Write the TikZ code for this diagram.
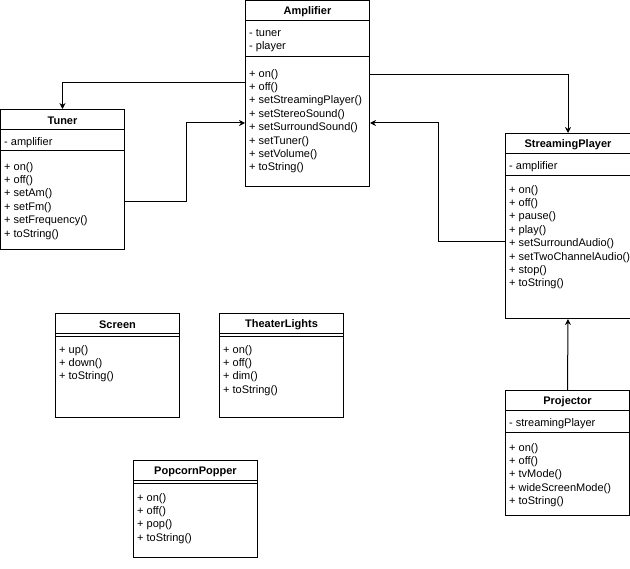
\documentclass[tikz,border=0pt]{standalone}
\usepackage{fontspec}
\setmainfont{Liberation Sans}
\usetikzlibrary{arrows.meta, positioning}
\newcommand{\umlsize}{\fontsize{11}{13.4}\selectfont}

\begin{document}
\begin{tikzpicture}[
    x=1pt, y=-1pt,
    umlclass/.style={draw, line width=1pt, anchor=north west, minimum width=124pt,
                     minimum height=#1, inner sep=0pt},
    umlname/.style={anchor=north, minimum height=23pt, inner sep=0pt, font=\umlsize\bfseries},
    members/.style={anchor=north west, align=left, inner sep=0pt, font=\umlsize},
    divider/.style={line width=1pt},
    assoc/.style={-{Stealth[length=6pt, width=6pt]}, line width=1pt}
]
    \useasboundingbox (0,0) rectangle (630,569);

    % Amplifier
    \node[umlclass=186pt] (amp) at (245,0) {};
    \node[umlname] (ampname) at (amp.north) {Amplifier};
    \draw[divider] ([yshift=-21pt]amp.north west) -- ([yshift=-21pt]amp.north east);
    \draw[divider] ([yshift=-57pt]amp.north west) -- ([yshift=-57pt]amp.north east);
    \node[members] (ampattr) at ([shift={(4,29)}]amp.north west) {- tuner\\- player};
    \node[members] (ampops) at ([shift={(4,69)}]amp.north west)
        {+ on()\\+ off()\\+ setStreamingPlayer()\\+ setStereoSound()\\+ setSurroundSound()\\+ setTuner()\\+ setVolume()\\+ toString()};

    % Tuner
    \node[umlclass=140pt] (tuner) at (0,109) {};
    \node[umlname] (tunername) at (tuner.north) {Tuner};
    \draw[divider] ([yshift=-21pt]tuner.north west) -- ([yshift=-21pt]tuner.north east);
    \draw[divider] ([yshift=-42pt]tuner.north west) -- ([yshift=-42pt]tuner.north east);
    \node[members] (tunerattr) at ([shift={(4,28)}]tuner.north west) {- amplifier};
    \node[members] (tunerops) at ([shift={(4,53)}]tuner.north west)
        {+ on()\\+ off()\\+ setAm()\\+ setFm()\\+ setFrequency()\\+ toString()};

    % StreamingPlayer
    \node[umlclass=185pt, minimum width=125pt] (player) at (505,133) {};
    \node[umlname] (playername) at (player.north) {StreamingPlayer};
    \draw[divider] ([yshift=-21pt]player.north west) -- ([yshift=-21pt]player.north east);
    \draw[divider] ([yshift=-43pt]player.north west) -- ([yshift=-43pt]player.north east);
    \node[members] (playerattr) at ([shift={(4,28)}]player.north west) {- amplifier};
    \node[members] (playerops) at ([shift={(4,52)}]player.north west)
        {+ on()\\+ off()\\+ pause()\\+ play()\\+ setSurroundAudio()\\+ setTwoChannelAudio()\\+ stop()\\+ toString()};

    % Projector
    \node[umlclass=125pt] (proj) at (505,390) {};
    \node[umlname] (projname) at (proj.north) {Projector};
    \draw[divider] ([yshift=-21pt]proj.north west) -- ([yshift=-21pt]proj.north east);
    \draw[divider] ([yshift=-43pt]proj.north west) -- ([yshift=-43pt]proj.north east);
    \node[members] (projattr) at ([shift={(4,28)}]proj.north west) {- streamingPlayer};
    \node[members] (projops) at ([shift={(4,53)}]proj.north west)
        {+ on()\\+ off()\\+ tvMode()\\+ wideScreenMode()\\+ toString()};

    % Screen
    \node[umlclass=104pt] (screen) at (55,313) {};
    \node[umlname] (screenname) at (screen.north) {Screen};
    \draw[divider] ([yshift=-21pt]screen.north west) -- ([yshift=-21pt]screen.north east);
    \draw[divider] ([yshift=-24pt]screen.north west) -- ([yshift=-24pt]screen.north east);
    \node[members] (screenops) at ([shift={(4,32)}]screen.north west)
        {+ up()\\+ down()\\+ toString()};

    % TheaterLights
    \node[umlclass=104pt] (lights) at (219,313) {};
    \node[umlname] (lightsname) at (lights.north) {TheaterLights};
    \draw[divider] ([yshift=-21pt]lights.north west) -- ([yshift=-21pt]lights.north east);
    \draw[divider] ([yshift=-24pt]lights.north west) -- ([yshift=-24pt]lights.north east);
    \node[members] (lightsops) at ([shift={(4,32)}]lights.north west)
        {+ on()\\+ off()\\+ dim()\\+ toString()};

    % PopcornPopper
    \node[umlclass=97pt] (popper) at (133,460) {};
    \node[umlname] (poppername) at (popper.north) {PopcornPopper};
    \draw[divider] ([yshift=-21pt]popper.north west) -- ([yshift=-21pt]popper.north east);
    \draw[divider] ([yshift=-24pt]popper.north west) -- ([yshift=-24pt]popper.north east);
    \node[members] (popperops) at ([shift={(4,33)}]popper.north west)
        {+ on()\\+ off()\\+ pop()\\+ toString()};

    % Associations
    \draw[assoc] ([yshift=-83pt]amp.north west) -| (tuner.north);
    \draw[assoc] ([yshift=-93pt]tuner.north east) -- ++(61,0) |- ([yshift=-123pt]amp.north west);
    \draw[assoc] ([yshift=-75pt]amp.north east) -| (player.north);
    \draw[assoc] ([yshift=-109pt]player.north west) -- ++(-67,0) |- ([yshift=-123pt]amp.north east);
    \draw[assoc] (proj.north) -- (player.south);
\end{tikzpicture}
\end{document}
